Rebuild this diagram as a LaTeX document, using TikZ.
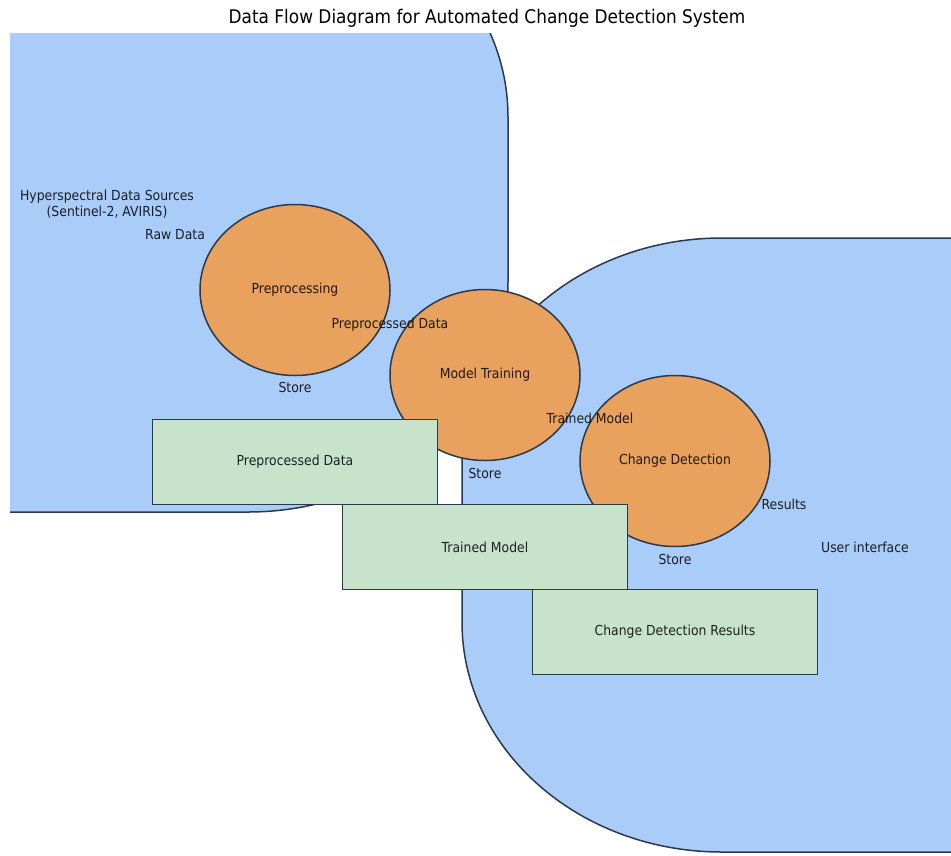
\documentclass[tikz,border=0pt]{standalone}
\usepackage{fontspec}
\setmainfont[FakeStretch=0.9]{DejaVu Sans}
\usetikzlibrary{shapes.geometric}
\definecolor{zoneblue}{HTML}{AACCF8}
\definecolor{procorange}{HTML}{E8A25E}
\definecolor{storegreen}{HTML}{C7E3CB}
\definecolor{edgegray}{HTML}{2B3A4A}
\tikzset{
  zone/.style={fill=zoneblue, draw=edgegray, line width=1.5pt},
  process/.style={ellipse, fill=procorange, draw=edgegray, line width=1.5pt,
    minimum width=190pt, minimum height=171pt, inner sep=0pt,
    font=\fontsize{13.8}{16}\selectfont, text=black, text opacity=0.85},
  datastore/.style={rectangle, fill=storegreen, draw=edgegray, line width=1.5pt,
    minimum width=285pt, minimum height=85pt, inner sep=0pt,
    font=\fontsize{13.8}{16}\selectfont, text=black, text opacity=0.85},
  flowlabel/.style={inner sep=0pt, font=\fontsize{13.8}{16.5}\selectfont,
    text=black, text opacity=0.85, align=center},
  titletext/.style={inner sep=0pt, font=\fontsize{18.8}{22}\selectfont, text=black}
}
\begin{document}
\begin{tikzpicture}[x=1pt, y=-1pt]
\useasboundingbox[fill=white] (0,0) rectangle (951,855);
\node[titletext] (title) at (487,18) {Data Flow Diagram for Automated Change Detection System};
\begin{scope}
  \clip (10,33) rectangle (960,855);
  % left zone (Hyperspectral Data Sources)
  \draw[zone] (-300,-113) -- (248,-113)
    arc[start angle=-90, end angle=0, x radius=260, y radius=230]
    -- (508,282)
    arc[start angle=0, end angle=90, x radius=260, y radius=230]
    -- (-300,512) -- cycle;
  % right zone (User interface)
  \draw[zone] (1400,238) -- (722,238)
    arc[start angle=-90, end angle=-180, x radius=260, y radius=230]
    -- (462,622)
    arc[start angle=180, end angle=90, x radius=260, y radius=230]
    -- (1400,852) -- cycle;
\end{scope}
\node[process] (pre) at (295,290) {Preprocessing};
\node[process] (train) at (485,375) {Model Training};
\node[process] (detect) at (675,461) {Change Detection};
\node[datastore] (s1) at (295,462) {Preprocessed Data};
\node[datastore] (s2) at (485,547) {Trained Model};
\node[datastore] (s3) at (675,632) {Change Detection Results};
\node[flowlabel] (src) at (107,204) {Hyperspectral Data Sources\\(Sentinel-2, AVIRIS)};
\node[flowlabel] (raw) at (175,235) {Raw Data};
\node[flowlabel] (ppd) at (390,325) {Preprocessed Data};
\node[flowlabel] (st1) at (295,387) {Store};
\node[flowlabel] (tm) at (590,418) {Trained Model};
\node[flowlabel] (st2) at (485,473) {Store};
\node[flowlabel] (res) at (784,504) {Results};
\node[flowlabel] (st3) at (675,559) {Store};
\node[flowlabel] (ui) at (865,547) {User interface};
\end{tikzpicture}
\end{document}
